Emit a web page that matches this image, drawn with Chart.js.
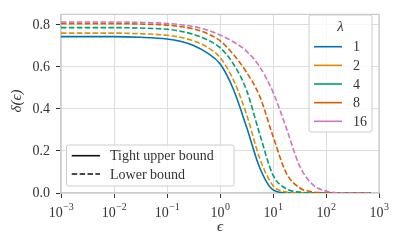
<!DOCTYPE html>
<html>
<head>
<meta charset="utf-8">
<script src="https://cdn.jsdelivr.net/npm/chart.js@4/dist/chart.umd.min.js"></script>
<style>
html,body{margin:0;padding:0;background:#fff;}
#wrap{width:397px;height:246px;}
</style>
</head>
<body>
<div id="wrap"><canvas id="c" width="397" height="246"></canvas></div>
<script>
// ---- data ----
const epsilon = [0.001, 0.01, 0.0316, 0.1, 0.178, 0.316, 0.562, 1, 1.78, 3.16, 5.62, 10, 17.8, 31.6, 56.2, 100, 178, 316, 700];
const tightUpper1 = [0.744, 0.744, 0.741, 0.733, 0.722, 0.702, 0.668, 0.615, 0.495, 0.315, 0.120, 0.015, 0.001, 0, 0, 0, 0, 0, 0];
const lower2  = [0.761, 0.761, 0.758, 0.751, 0.741, 0.724, 0.695, 0.645, 0.540, 0.375, 0.165, 0.035, 0.005, 0.0005, 0, 0, 0, 0, 0];
const lower4  = [0.787, 0.787, 0.785, 0.779, 0.770, 0.755, 0.730, 0.692, 0.615, 0.490, 0.280, 0.085, 0.020, 0.004, 0.0005, 0, 0, 0, 0];
const lower8  = [0.806, 0.806, 0.804, 0.799, 0.792, 0.781, 0.760, 0.725, 0.660, 0.575, 0.460, 0.270, 0.095, 0.025, 0.005, 0.001, 0, 0, 0];
const lower16 = [0.814, 0.814, 0.812, 0.807, 0.801, 0.792, 0.776, 0.752, 0.720, 0.675, 0.600, 0.480, 0.310, 0.130, 0.040, 0.009, 0.001, 0, 0];
const lambdaLabels = ['1', '2', '4', '8', '16'];
const styleLabels = ['Tight upper bound', 'Lower bound'];
const xTickExponents = [-3, -2, -1, 0, 1, 2, 3];
const yTicks = [0.0, 0.2, 0.4, 0.6, 0.8];

const colors = ['#0173b2', '#de8f05', '#029e73', '#d55e00', '#cc78bc'];
const SERIF = '"Liberation Serif", "DejaVu Serif", serif';
const DASH = [5.5, 2.4];

function pts(arr){ return epsilon.map((e,i)=>({x:e, y:arr[i]})); }
function ds(arr, color, dashed){
  return {data: pts(arr), borderColor: color, backgroundColor: color, borderWidth: 1.6,
    borderDash: dashed ? DASH : [], pointRadius: 0, fill: false, cubicInterpolationMode: 'monotone'};
}

const datasets = [
  ds(lower16, colors[4], true),
  ds(lower8, colors[3], true),
  ds(lower4, colors[2], true),
  ds(lower2, colors[1], true),
  ds(tightUpper1, colors[0], false)
];

function rrect(ctx, x, y, w, h, r){
  ctx.beginPath();
  ctx.moveTo(x+r, y); ctx.lineTo(x+w-r, y); ctx.quadraticCurveTo(x+w, y, x+w, y+r);
  ctx.lineTo(x+w, y+h-r); ctx.quadraticCurveTo(x+w, y+h, x+w-r, y+h);
  ctx.lineTo(x+r, y+h); ctx.quadraticCurveTo(x, y+h, x, y+h-r);
  ctx.lineTo(x, y+r); ctx.quadraticCurveTo(x, y, x+r, y); ctx.closePath();
}

const decor = {
  id: 'decor',
  afterDatasetsDraw(chart){
    const ctx = chart.ctx, a = chart.chartArea;
    const xs = chart.scales.x;
    ctx.save();
    // top/right spines
    ctx.strokeStyle = '#cccccc'; ctx.lineWidth = 1.25;
    ctx.beginPath();
    ctx.moveTo(a.left, a.top); ctx.lineTo(a.right, a.top); ctx.lineTo(a.right, a.bottom);
    ctx.stroke();

    // x tick labels with superscripts
    ctx.fillStyle = '#333'; ctx.textBaseline = 'alphabetic';
    xs.ticks.forEach(t => {
      const e = Math.round(Math.log10(t.value));
      const px = xs.getPixelForValue(t.value);
      const base = '10', sup = e < 0 ? '\u2212' + (-e) : String(e);
      ctx.font = '14px ' + SERIF;
      const wb = ctx.measureText(base).width;
      ctx.font = '10px ' + SERIF;
      const ws = ctx.measureText(sup).width;
      const x0 = px - (wb + ws) / 2;
      ctx.font = '14px ' + SERIF; ctx.textAlign = 'left';
      ctx.fillText(base, x0, 217);
      ctx.font = '10px ' + SERIF;
      ctx.fillText(sup, x0 + wb + 0.5, 210);
    });

    // axis titles
    ctx.textAlign = 'center'; ctx.textBaseline = 'middle';
    ctx.font = 'italic 15px ' + SERIF;
    ctx.fillText('\u03f5', xs.getPixelForValue(1), 227);
    ctx.save();
    ctx.translate(17, 101); ctx.rotate(-Math.PI/2);
    ctx.font = 'italic 15px ' + SERIF;
    ctx.fillText('\u03b4(\u03f5)', 0, 0);
    ctx.restore();

    // legend: lambda
    ctx.fillStyle = 'rgba(255,255,255,0.8)';
    ctx.strokeStyle = '#cccccc'; ctx.lineWidth = 1;
    rrect(ctx, 309, 15, 63, 117, 2); ctx.fill(); ctx.stroke();
    ctx.fillStyle = '#333';
    ctx.font = 'italic 15px ' + SERIF; ctx.textAlign = 'center'; ctx.textBaseline = 'middle';
    ctx.fillText('\u03bb', 340.5, 27.5);
    ctx.font = '14px ' + SERIF; ctx.textAlign = 'left';
    lambdaLabels.forEach((lab, i) => {
      const y = 46.7 + i * 18.65;
      ctx.strokeStyle = colors[i]; ctx.lineWidth = 1.6; ctx.setLineDash([]);
      ctx.beginPath(); ctx.moveTo(314, y); ctx.lineTo(342, y); ctx.stroke();
      ctx.fillText(lab, 353, y + 1);
    });

    // legend: line style
    ctx.fillStyle = 'rgba(255,255,255,0.8)';
    ctx.strokeStyle = '#cccccc'; ctx.lineWidth = 1;
    rrect(ctx, 66.5, 145, 167.5, 41, 2); ctx.fill(); ctx.stroke();
    ctx.fillStyle = '#333';
    styleLabels.forEach((lab, i) => {
      const y = 155.7 + i * 18.3;
      ctx.strokeStyle = '#111'; ctx.lineWidth = 1.6;
      ctx.setLineDash(i === 0 ? [] : DASH);
      ctx.beginPath(); ctx.moveTo(71.7, y); ctx.lineTo(100, y); ctx.stroke();
      ctx.setLineDash([]);
      ctx.fillText(lab, 110, y + 1);
    });
    ctx.restore();
  }
};

new Chart(document.getElementById('c'), {
  type: 'line',
  data: { datasets },
  options: {
    responsive: false, animation: false, devicePixelRatio: 1,
    layout: { padding: { top: 9, right: 18, left: 0, bottom: 0 } },
    plugins: { legend: { display: false }, tooltip: { enabled: false } },
    scales: {
      x: {
        type: 'logarithmic', min: 1e-3, max: 1e3,
        afterBuildTicks: s => { s.ticks = xTickExponents.map(e => ({ value: Math.pow(10, e), major: true })); },
        afterFit: s => { s.height = 53; },
        ticks: { callback: () => '', autoSkip: false, maxRotation: 0 },
        grid: { color: '#dddddd', lineWidth: 1, tickLength: 5, tickColor: '#333', tickWidth: 1 },
        border: { color: '#cccccc', width: 1.25 }
      },
      y: {
        type: 'linear', min: 0, max: 0.85,
        afterBuildTicks: s => { s.ticks = yTicks.map(v => ({ value: v })); },
        afterFit: s => { s.width = 61; },
        ticks: { callback: v => Number(v).toFixed(1), color: '#333', padding: 6,
          font: { family: SERIF, size: 14 } },
        grid: { color: '#dddddd', lineWidth: 1, tickLength: 5, tickColor: '#333', tickWidth: 1 },
        border: { color: '#cccccc', width: 1.25 }
      }
    }
  },
  plugins: [decor]
});
</script>
</body>
</html>
